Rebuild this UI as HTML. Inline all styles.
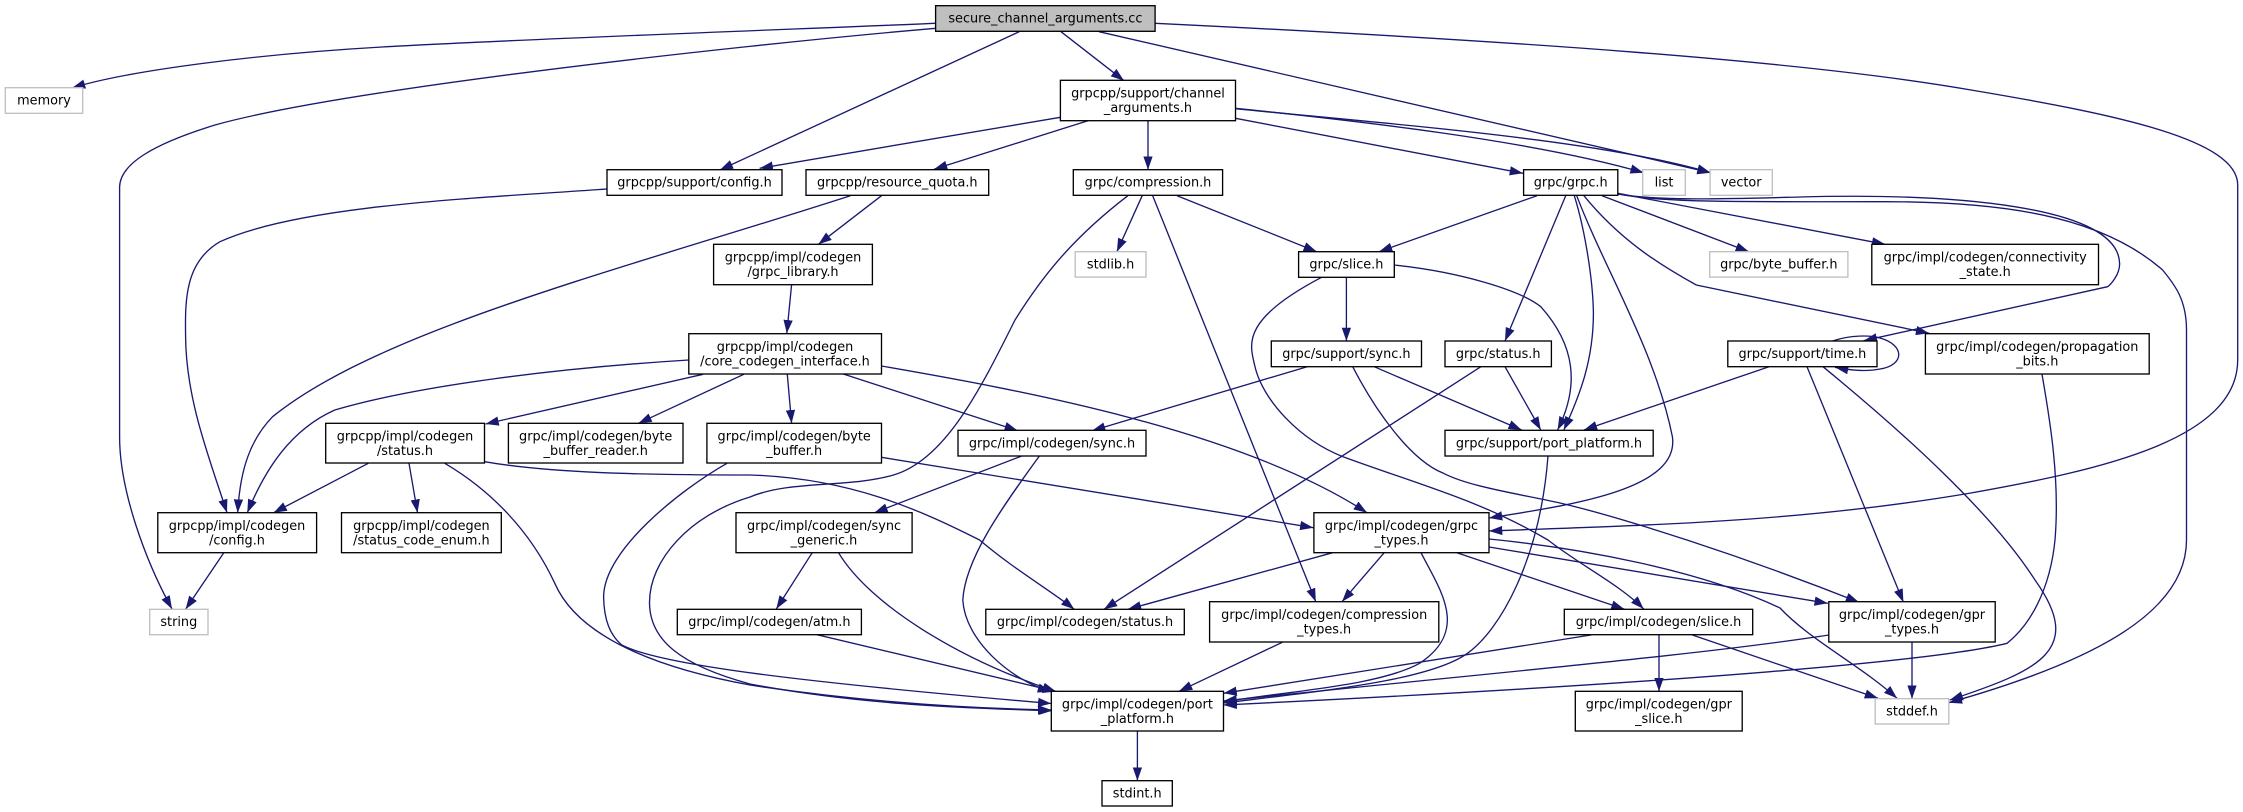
<!DOCTYPE html>
<html>
<head>
<meta charset="utf-8">
<style>
html,body{margin:0;padding:0;background:#fff}
svg{display:block}
text{font-family:"DejaVu Sans","Liberation Sans",sans-serif;font-size:12.85px;text-anchor:middle;fill:#000}
.n{fill:#fff;stroke:#000;stroke-width:1.33}
.g{fill:#fff;stroke:#bfbfbf;stroke-width:1.33}
</style>
</head>
<body>
<svg xmlns="http://www.w3.org/2000/svg" width="2243" height="812" viewBox="0 0 2243 812">
<defs>
<marker id="a" markerUnits="userSpaceOnUse" markerWidth="14" markerHeight="10" refX="13.3" refY="4.67" orient="auto"><path d="M0,0L13.3,4.67L0,9.33z" fill="#191970"/></marker>
</defs>
<rect width="2243" height="812" fill="#fff"/>
<g fill="none" stroke="#191970" stroke-width="1.33" marker-end="url(#a)">
<path d="M935.6,23.3C800,29 500,40 382,47C260,54 130,70 72,88"/>
<path d="M935.6,28.3C720,47 340,90 215,125C150,145 120,165 119.6,187L119.6,437C119.6,490 145,560 172,609"/>
<path d="M1019.3,31.7L719.8,170"/>
<path d="M1061,31.7L1124,80.7"/>
<path d="M1099,31.7L1710.6,172.7"/>
<path d="M1155,23.3C1500,40 1800,60 1971,90C2120,115 2237.7,140 2237.7,185L2237.7,360C2237.7,440 2100,470 1971,493C1800,522 1650,525 1489,531"/>
<path d="M1060.4,117.3L759.6,168.3"/>
<path d="M1088,120.7L934,169.3"/>
<path d="M1148,120.7L1148,169.7"/>
<path d="M1235.5,118.3L1523,173.3"/>
<path d="M1235.5,108.3C1350,120 1530,140 1643.7,172.7"/>
<path d="M1235.5,108.7C1400,125 1600,140 1710.6,172.7"/>
<path d="M607,189C480,198 300,205 220,241.7C185,262 185,300 185.6,336.7C186,400 210,460 227,512.7"/>
<path d="M850.4,195.7C620,270 380,330 272.6,416.7C250,440 240,470 237.7,512.7"/>
<path d="M881.5,195.7L818.4,244.3"/>
<path d="M791.6,284.7L786.8,333.3"/>
<path d="M688.8,360C560,368 420,385 334.8,410C290,430 265,470 247.3,512.7"/>
<path d="M703,374.3L485.5,424"/>
<path d="M743.8,374.3L638.5,423.3"/>
<path d="M787.3,374.3L791.6,423.3"/>
<path d="M843.3,374L1017.8,430.7"/>
<path d="M881.5,366C1020,390 1240,430 1367,512.7"/>
<path d="M368.3,463.3L273.6,512.7"/>
<path d="M409,463.3L417.5,512.7"/>
<path d="M444.8,463.3C490,490 530,530 554.8,583.3C575,630 640,665 750,685C850,700 950,708 1051.3,710"/>
<path d="M484.5,461.7C550,473 640,475 750,475C850,478 920,510 979.6,540C1015,570 1050,590 1074.3,609.3"/>
<path d="M881.5,457.3L1313.4,527.7"/>
<path d="M727,463.3C680,490 604,550 603.6,596.7C604,620 610,635 621.8,645C660,665 800,682 1051.3,703.5"/>
<path d="M1127.9,195.7C1070,240 1040,280 1015,320C980,390 945,460 893.5,475C850,488 790,480 750,497C690,515 649,560 649.5,603.3C650,640 680,665 750,684C850,703 950,708 1052,710.7"/>
<path d="M1142.2,195.7L1116.9,251.7"/>
<path d="M1152.7,195.7L1315.8,601.7"/>
<path d="M1177.1,195.7L1316.8,251.7"/>
<path d="M1537,195.7L1379,251.7"/>
<path d="M1565.7,195.7L1505,341"/>
<path d="M1574.3,195.7C1585,230 1593,280 1593.4,313.3C1593.4,360 1580,395 1563.8,430"/>
<path d="M1576.7,195.7C1605,270 1655,350 1672.4,436.7C1680,490 1570,505 1489,518"/>
<path d="M1602,195.7L1748.9,251.7"/>
<path d="M1617.8,193.3L1885.2,244.3"/>
<path d="M1583.9,195.7C1620,240 1660,265 1696.3,285L1929.2,333.3"/>
<path d="M1617.8,194C1660,201 1720,199 1800,197C1950,193 2118,205 2119.6,263.3C2120,275 2110,285 2107.6,286.7L1863.7,340.7"/>
<path d="M1617.8,194C1660,202 1720,202 1875.6,201.7C2000,201 2100,215 2162.6,270C2175,285 2186.5,300 2186.5,330L2186.5,540C2186.5,610 2100,660 1948.8,702.7"/>
<path d="M1346.4,277.3L1346.4,341"/>
<path d="M1394.3,265C1460,272 1520,290 1540.8,306.7C1575,345 1580,385 1557.6,430"/>
<path d="M1321.6,277.3C1240,320 1250,345 1254.6,365C1262,400 1300,440 1343,456.7C1420,485 1480,500 1548,540C1580,565 1620,585 1643.7,609"/>
<path d="M1307.2,366.7L1092,430.7"/>
<path d="M1374.2,366.7L1521.7,430"/>
<path d="M1352.7,366.7C1375,410 1410,460 1443.5,473.3C1470,487 1520,494 1560,503C1620,517 1740,555 1859,602.3"/>
<path d="M1489,547L1827.8,603.3"/>
<path d="M1489,539C1580,548 1700,570 1780,608C1810,640 1860,665 1897,698.3"/>
<path d="M1456.9,552.7L1624.5,609.3"/>
<path d="M1548,456C1540,560 1500,630 1467.5,653.3C1430,680 1330,690 1223.5,703"/>
<path d="M1505,366.7L1540.8,430"/>
<path d="M1480.9,366.7L1104,609.3"/>
<path d="M1832.6,341C1850,335 1870,335 1880,338C1905,345 1905,365 1880,369C1865,372 1850,370 1835,367.3"/>
<path d="M1769,366.7L1583.9,430"/>
<path d="M1807,366.7L1903.4,602.3"/>
<path d="M1823,366.7C1900,430 1990,510 2035,580C2085,650 2040,670 1949.8,700"/>
<path d="M2042,374.3C2050,420 2060,480 2055,540C2050,590 2030,625 2007,643.3C1940,660 1700,682 1223.5,705"/>
<path d="M1828.8,635C1700,655 1500,672 1223.5,701"/>
<path d="M1591,635L1223.5,693.3"/>
<path d="M1421,552.7C1440,590 1470,630 1419.6,663.3C1380,685 1300,690 1223.5,701.7"/>
<path d="M1912,642L1912,698.7"/>
<path d="M1692.4,635L1878,698.3"/>
<path d="M1659,635L1659,691.3"/>
<path d="M1332.6,552.7L1127.9,609.3"/>
<path d="M1384.2,552.7L1342,601.7"/>
<path d="M1282.3,642.3L1179,691.3"/>
<path d="M1021.7,456L874.4,512.7"/>
<path d="M1039.4,456C1000,510 965,560 962.8,600C965,640 1010,680 1051,691.7"/>
<path d="M812.2,552.7L776.3,609"/>
<path d="M838.5,552.7C870,605 960,660 1056,691.5"/>
<path d="M817,634.7L1056,691.5"/>
<path d="M223.8,552.7L185.6,609.3"/>
<path d="M1137.4,731L1137.4,780.7"/>
</g>
<rect x="935.6" y="5.7" width="219.5" height="25.6" fill="#bfbfbf" stroke="#000" stroke-width="1.33"/><text x="1045.4" y="22.5">secure_channel_arguments.cc</text>
<rect class="g" x="5.3" y="87.7" width="77.4" height="25.6"/><text x="44" y="104.5">memory</text>
<rect class="n" x="1060.4" y="80.3" width="175.1" height="40.4"/><text x="1148" y="97.5">grpcpp/support/channel</text><text x="1148" y="112">_arguments.h</text>
<rect class="n" x="607" y="169.7" width="175" height="25.6"/><text x="694.5" y="186.5">grpcpp/support/config.h</text>
<rect class="n" x="806" y="169.7" width="182.7" height="25.6"/><text x="897.3" y="186.5">grpcpp/resource_quota.h</text>
<rect class="n" x="1073.3" y="169.7" width="149.3" height="25.6"/><text x="1148" y="186.5">grpc/compression.h</text>
<rect class="n" x="1523.6" y="169.7" width="94.2" height="25.6"/><text x="1570.7" y="186.5">grpc/grpc.h</text>
<rect class="g" x="1642.7" y="169.7" width="42.6" height="25.6"/><text x="1664" y="186.5">list</text>
<rect class="g" x="1710.1" y="169.7" width="62.2" height="25.6"/><text x="1741.2" y="186.5">vector</text>
<rect class="n" x="713.6" y="244.3" width="158.8" height="40.4"/><text x="793" y="261.5">grpcpp/impl/codegen</text><text x="793" y="276">/grpc_library.h</text>
<rect class="g" x="1075.2" y="251.7" width="70.8" height="25.4"/><text x="1110.6" y="268.5">stdlib.h</text>
<rect class="n" x="1298.6" y="251.7" width="95.7" height="25.6"/><text x="1346.4" y="268.5">grpc/slice.h</text>
<rect class="g" x="1709.7" y="251.7" width="138.2" height="25.4"/><text x="1778.8" y="268.5">grpc/byte_buffer.h</text>
<rect class="n" x="1871.8" y="244.3" width="226.7" height="40.4"/><text x="1985.2" y="261.5">grpc/impl/codegen/connectivity</text><text x="1985.2" y="276">_state.h</text>
<rect class="n" x="688.8" y="333.7" width="192.7" height="40.3"/><text x="785" y="351">grpcpp/impl/codegen</text><text x="785" y="365.5">/core_codegen_interface.h</text>
<rect class="n" x="1271.3" y="341" width="150.2" height="25.7"/><text x="1346.4" y="358">grpc/support/sync.h</text>
<rect class="n" x="1445" y="341" width="106.4" height="25.7"/><text x="1498.2" y="358">grpc/status.h</text>
<rect class="n" x="1727.8" y="341" width="149.2" height="25.7"/><text x="1802.4" y="358">grpc/support/time.h</text>
<rect class="n" x="1925.4" y="333.7" width="223.8" height="40.3"/><text x="2037.3" y="351">grpc/impl/codegen/propagation</text><text x="2037.3" y="365.5">_bits.h</text>
<rect class="n" x="325.7" y="423.3" width="158.8" height="39.7"/><text x="405" y="440.5">grpcpp/impl/codegen</text><text x="405" y="455">/status.h</text>
<rect class="n" x="508.4" y="423.3" width="174.6" height="39.7"/><text x="595.7" y="440.5">grpc/impl/codegen/byte</text><text x="595.7" y="455">_buffer_reader.h</text>
<rect class="n" x="706.9" y="423.3" width="174.6" height="39.7"/><text x="794.2" y="440.5">grpc/impl/codegen/byte</text><text x="794.2" y="455">_buffer.h</text>
<rect class="n" x="958" y="430.3" width="188" height="25.7"/><text x="1052" y="447.5">grpc/impl/codegen/sync.h</text>
<rect class="n" x="1445" y="430.3" width="208.2" height="25.7"/><text x="1549" y="447.5">grpc/support/port_platform.h</text>
<rect class="n" x="157.8" y="512.7" width="158.8" height="40"/><text x="237" y="530">grpcpp/impl/codegen</text><text x="237" y="544.5">/config.h</text>
<rect class="n" x="341.5" y="512.7" width="159.8" height="40"/><text x="421.4" y="530">grpcpp/impl/codegen</text><text x="421.4" y="544.5">/status_code_enum.h</text>
<rect class="n" x="736" y="512.7" width="176.1" height="40"/><text x="824" y="530">grpc/impl/codegen/sync</text><text x="824" y="544.5">_generic.h</text>
<rect class="n" x="1313.9" y="512.7" width="175.1" height="40"/><text x="1401.5" y="530">grpc/impl/codegen/grpc</text><text x="1401.5" y="544.5">_types.h</text>
<rect class="g" x="149.7" y="609.3" width="58.3" height="25.4"/><text x="178.8" y="626">string</text>
<rect class="n" x="677.3" y="609.3" width="184.1" height="25.4"/><text x="769.4" y="626">grpc/impl/codegen/atm.h</text>
<rect class="n" x="985.8" y="609.3" width="198.5" height="25.4"/><text x="1085" y="626">grpc/impl/codegen/status.h</text>
<rect class="n" x="1209.6" y="601.7" width="229.2" height="40.3"/><text x="1324.2" y="619">grpc/impl/codegen/compression</text><text x="1324.2" y="633.5">_types.h</text>
<rect class="n" x="1564.3" y="609.3" width="188.4" height="25.4"/><text x="1658.5" y="626">grpc/impl/codegen/slice.h</text>
<rect class="n" x="1828.8" y="601.7" width="166.4" height="40.3"/><text x="1912" y="619">grpc/impl/codegen/gpr</text><text x="1912" y="633.5">_types.h</text>
<rect class="n" x="1051.3" y="691.3" width="172.2" height="39.7"/><text x="1137.4" y="708.5">grpc/impl/codegen/port</text><text x="1137.4" y="723">_platform.h</text>
<rect class="n" x="1575.3" y="691.3" width="166.9" height="39.7"/><text x="1658.8" y="708.5">grpc/impl/codegen/gpr</text><text x="1658.8" y="723">_slice.h</text>
<rect class="g" x="1875.2" y="698.7" width="73.6" height="25.3"/><text x="1912" y="715.5">stddef.h</text>
<rect class="n" x="1102" y="780.7" width="70.3" height="25.3"/><text x="1137.2" y="797.5">stdint.h</text>
</svg>
</body>
</html>
